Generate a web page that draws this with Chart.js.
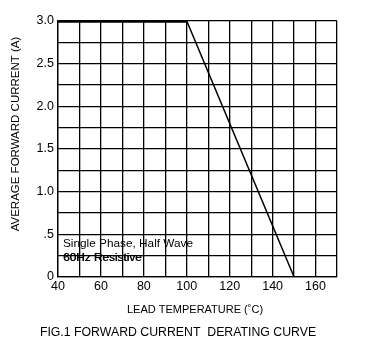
<!DOCTYPE html>
<html><head><meta charset="utf-8">
<script src="https://cdn.jsdelivr.net/npm/chart.js@4/dist/chart.umd.min.js"></script>
<style>html,body{margin:0;padding:0;background:#fff;}#wrap{width:365px;height:351px;position:relative;}</style>
</head><body><div id="wrap"><canvas id="c" width="365" height="351"></canvas></div>
<script>
const flatTemps = [40, 100];
const flatCurrent = [3.0, 3.0];
const slopeTemps = [100, 150];
const slopeCurrent = [3.0, 0];
const xMin = 40, xMax = 170, xStep = 10;
const yMin = 0, yMax = 3.0, yStep = 0.25;
const yTitle = 'AVERAGE FORWARD CURRENT (A)';
const xTitle = 'LEAD TEMPERATURE (\u02daC)';
const caption = 'FIG.1 FORWARD CURRENT  DERATING CURVE';
const note1 = 'Single Phase, Half Wave';
const note2 = '60Hz Resistive';
const FONT = '"Liberation Sans", Arial, sans-serif';

const textPlugin = {
  id: 'texts',
  afterDraw(chart) {
    const ctx = chart.ctx;
    const xs = chart.scales.x;
    ctx.save();
    ctx.fillStyle = '#000';
    ctx.font = '11.8px ' + FONT;
    ctx.textBaseline = 'middle';
    ctx.textAlign = 'left';
    const nx = xs.left + 5;
    ctx.fillText(note1, nx, 244);
    ctx.fillText(note2, nx, 258);
    ctx.fillText(note2, nx + 0.4, 258);
    ctx.textAlign = 'center';
    ctx.font = '11px ' + FONT;
    ctx.fillText(xTitle, 195, 310);
    ctx.font = '12.3px ' + FONT;
    ctx.fillText(caption, 178, 333);
    ctx.translate(15.5, 134);
    ctx.rotate(-Math.PI / 2);
    ctx.font = '11.5px ' + FONT;
    ctx.fillText(yTitle, 0, 0);
    ctx.restore();
  }
};

new Chart(document.getElementById('c'), {
  type: 'line',
  data: {
    datasets: [
      { data: flatTemps.map((t, i) => ({x: t, y: flatCurrent[i]})), borderColor: '#000', borderWidth: 3.5, pointRadius: 0, tension: 0, borderCapStyle: 'butt' },
      { data: slopeTemps.map((t, i) => ({x: t, y: slopeCurrent[i]})), borderColor: '#000', borderWidth: 1.5, pointRadius: 0, tension: 0 }
    ]
  },
  options: {
    responsive: false,
    animation: false,
    devicePixelRatio: 1,
    layout: { padding: { top: 21, right: 28, left: 0, bottom: 0 } },
    plugins: { legend: { display: false }, tooltip: { enabled: false } },
    scales: {
      x: {
        type: 'linear', min: xMin, max: xMax,
        afterFit(s) { s.height = 74; },
        grid: { color: '#000', lineWidth: 1.3, drawTicks: false },
        border: { color: '#000', width: 1.3 },
        ticks: {
          stepSize: xStep, autoSkip: false, maxRotation: 0, padding: 2,
          color: '#000', font: { family: FONT, size: 12.5 },
          callback: v => (v % 20 === 0 && v <= 160) ? String(v) : ''
        }
      },
      y: {
        type: 'linear', min: yMin, max: yMax,
        afterFit(s) { s.width = 58; },
        grid: { color: '#000', lineWidth: 1.3, drawTicks: false },
        border: { color: '#000', width: 1.3 },
        ticks: {
          stepSize: yStep, autoSkip: false, padding: 4,
          color: '#000', font: { family: FONT, size: 12.5 },
          callback: v => {
            if (Math.abs(v * 2 - Math.round(v * 2)) > 1e-6) return '';
            if (v === 0) return '0';
            if (v === 0.5) return '.5';
            return v.toFixed(1);
          }
        }
      }
    }
  },
  plugins: [textPlugin]
});
</script></body></html>
